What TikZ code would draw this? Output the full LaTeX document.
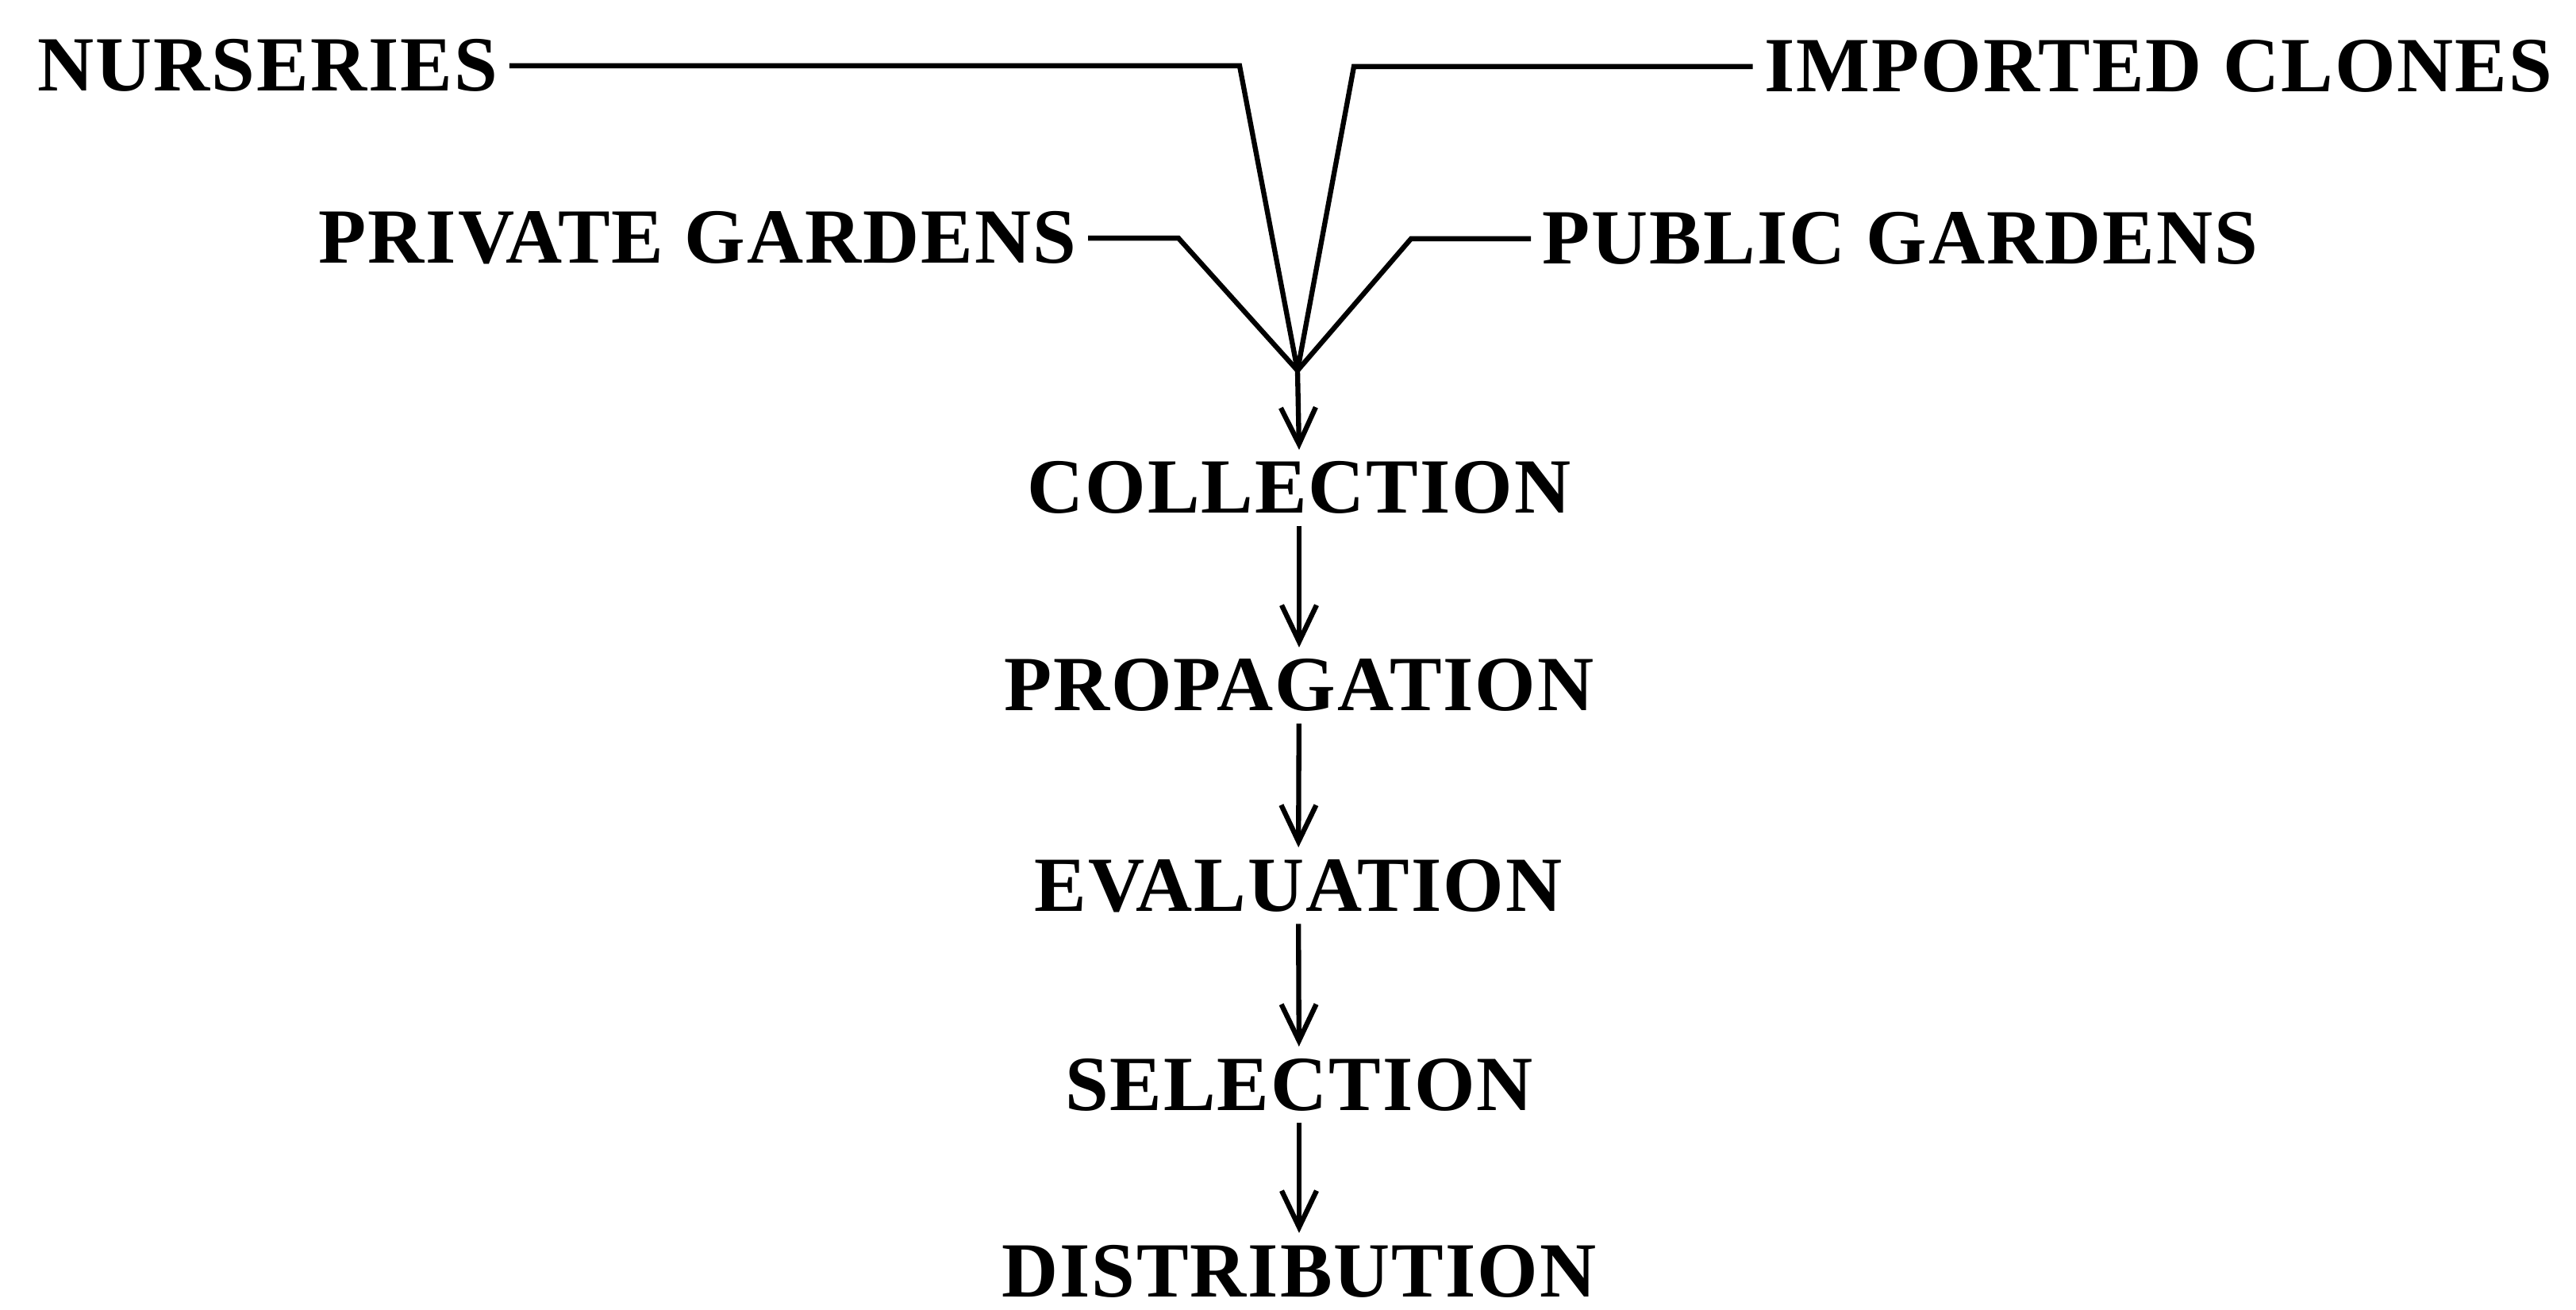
\documentclass[tikz,border=0pt]{standalone}
\usepackage{fontspec}
\setmainfont{Liberation Serif}[LetterSpace=2]
\usetikzlibrary{arrows.meta}
\begin{document}
\begin{tikzpicture}[line width=1.8pt,
        >={Straight Barb[length=4.6mm,width=4.4mm]},
        every node/.style={font=\fontsize{28}{30}\selectfont\bfseries}]
            \useasboundingbox (0,0) rectangle (32.46,16.5);

            \node[anchor=base west] (N) at (.33,15.35) {NURSERIES};
            \node[anchor=base east] (IC) at (32.31,15.34) {IMPORTED CLONES};
            \node[anchor=base east] (PV) at (13.71,13.18) {PRIVATE GARDENS};
            \node[anchor=base west] (PB) at (19.29,13.17) {PUBLIC GARDENS};
            \node[anchor=base] (C) at (16.37,10.03) {COLLECTION};
            \node[anchor=base] (P) at (16.37,7.54) {PROPAGATION};
            \node[anchor=base] (E) at (16.36,5.02) {EVALUATION};
            \node[anchor=base] (S) at (16.37,2.51) {SELECTION};
            \node[anchor=base] (D) at (16.37,.16) {DISTRIBUTION};

            \coordinate (J) at (16.35,11.83);
            \coordinate (Nc) at (15.62,15.67);
            \coordinate (ICc) at (17.06,15.66);
            \coordinate (PVc) at (14.85,13.55);
            \coordinate (PBc) at (17.78,13.55);

            \draw (N.east) to (N.east -| Nc) to (J);
            \draw (IC.west) to (IC.west -| ICc) to (J);
            \draw (PV.east) to (PV.east -| PVc) to (J);
            \draw (PB.west) to (PB.west -| PBc) to (J);
            \draw[->] (J) to (C.north);
            \draw[->] (C) to (P); \draw[->] (P) to (E);
            \draw[->] (E) to (S); \draw[->] (S) to (D);
        \end{tikzpicture}
\end{document}
